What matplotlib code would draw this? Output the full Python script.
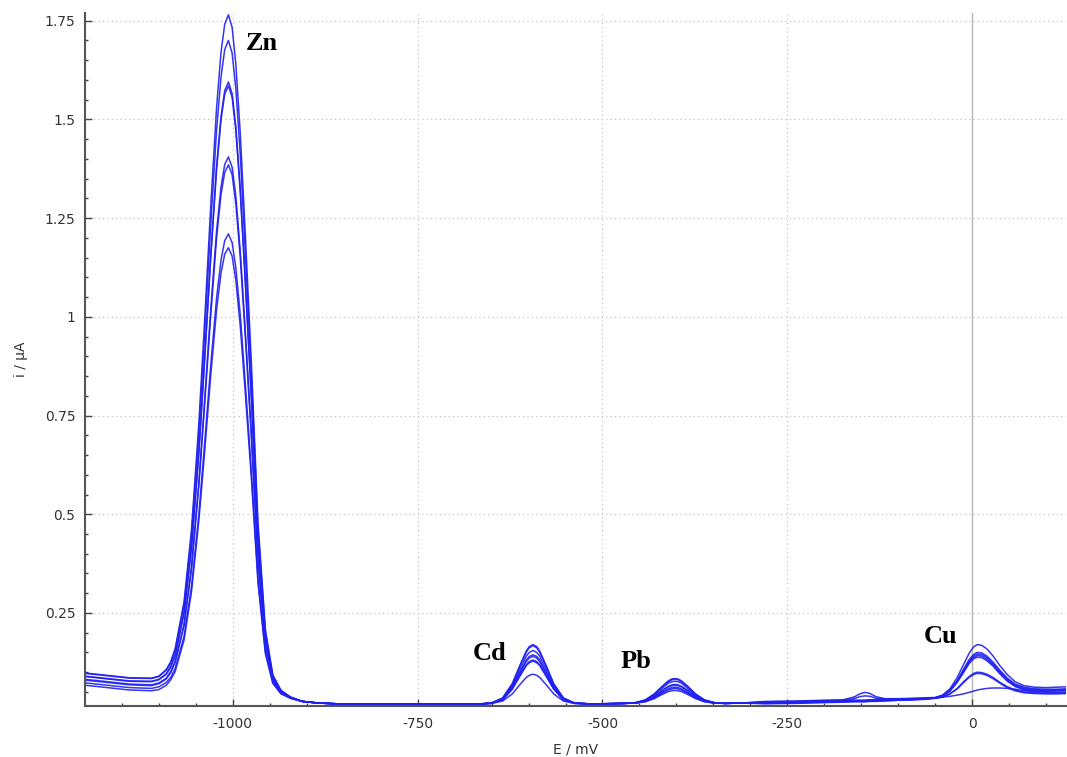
import matplotlib
matplotlib.use("Agg")
import matplotlib.pyplot as plt
from matplotlib.ticker import MultipleLocator, FixedLocator, FixedFormatter

# potential grid (mV), denser around the stripping peaks
potential = [
    -1200, -1170, -1140, -1110, -1100, -1090, -1084, -1078, -1066, -1056, -1046, -1038, -1030, -1022,
    -1016, -1011, -1006, -1001, -996, -990, -983, -975, -966, -956, -946, -935, -922, -906, -885, -860,
    -820, -760, -700, -670,
    -650, -635, -622, -612, -603, -599, -594, -589, -585, -576, -566, -553, -538, -520, -500,
    -470, -455, -442, -430, -420, -411, -406, -402, -398, -393, -384, -374, -362, -349, -334, -310,
    -280, -240, -200, -175, -160, -152, -145, -138, -130, -118,
    -100, -80, -65, -50, -40, -30, -20, -12, -4, 2, 7, 13, 20, 28, 37, 47, 58, 70, 84, 100, 114, 128,
]

# current (uA) of each scan
scan_1 = [
    0.098, 0.092, 0.086, 0.085, 0.090, 0.107, 0.127, 0.160, 0.279, 0.460, 0.730, 0.997, 1.278, 1.530,
    1.670, 1.741, 1.765, 1.733, 1.641, 1.466, 1.204, 0.885, 0.480, 0.208, 0.093, 0.054, 0.037, 0.026,
    0.022, 0.020,
    0.019, 0.019, 0.019, 0.019,
    0.022, 0.035, 0.071, 0.116, 0.154, 0.165, 0.170, 0.165, 0.154, 0.116, 0.071, 0.035, 0.022, 0.020,
    0.020,
    0.021, 0.023, 0.030, 0.045, 0.063, 0.078, 0.083, 0.084, 0.083, 0.078, 0.063, 0.045, 0.030, 0.023,
    0.021, 0.022,
    0.026, 0.027, 0.029, 0.030, 0.037, 0.045, 0.049, 0.046, 0.038, 0.033,
    0.033, 0.034, 0.035, 0.036, 0.042, 0.058, 0.087, 0.118, 0.148, 0.164, 0.170, 0.168, 0.159, 0.142,
    0.118, 0.095, 0.076, 0.066, 0.062, 0.061, 0.062, 0.063,
]
scan_2 = [
    0.097, 0.091, 0.085, 0.084, 0.089, 0.105, 0.124, 0.156, 0.270, 0.444, 0.704, 0.961, 1.231, 1.473,
    1.608, 1.677, 1.700, 1.668, 1.580, 1.412, 1.159, 0.853, 0.463, 0.202, 0.092, 0.054, 0.037, 0.026,
    0.022, 0.020,
    0.019, 0.019, 0.019, 0.019,
    0.022, 0.034, 0.070, 0.114, 0.151, 0.162, 0.167, 0.162, 0.151, 0.114, 0.070, 0.034, 0.022, 0.020,
    0.020,
    0.021, 0.023, 0.029, 0.044, 0.062, 0.076, 0.081, 0.082, 0.081, 0.076, 0.062, 0.044, 0.029, 0.023,
    0.021, 0.022,
    0.025, 0.026, 0.028, 0.029, 0.033, 0.038, 0.040, 0.039, 0.034, 0.032,
    0.032, 0.033, 0.034, 0.035, 0.041, 0.054, 0.079, 0.106, 0.132, 0.145, 0.150, 0.149, 0.141, 0.126,
    0.106, 0.086, 0.070, 0.062, 0.058, 0.057, 0.057, 0.058,
]
scan_3 = [
    0.090, 0.084, 0.078, 0.077, 0.082, 0.096, 0.115, 0.144, 0.252, 0.415, 0.659, 0.901, 1.154, 1.382,
    1.508, 1.573, 1.595, 1.565, 1.482, 1.325, 1.088, 0.800, 0.436, 0.191, 0.088, 0.052, 0.036, 0.026,
    0.022, 0.020,
    0.019, 0.019, 0.019, 0.019,
    0.022, 0.033, 0.066, 0.106, 0.141, 0.150, 0.155, 0.150, 0.141, 0.106, 0.066, 0.033, 0.022, 0.020,
    0.020,
    0.021, 0.023, 0.029, 0.042, 0.058, 0.072, 0.076, 0.077, 0.076, 0.072, 0.058, 0.042, 0.029, 0.023,
    0.021, 0.022,
    0.024, 0.025, 0.027, 0.028, 0.029, 0.029, 0.029, 0.030, 0.030, 0.031,
    0.031, 0.032, 0.033, 0.035, 0.040, 0.053, 0.078, 0.103, 0.128, 0.141, 0.146, 0.145, 0.137, 0.123,
    0.103, 0.083, 0.068, 0.059, 0.056, 0.055, 0.055, 0.056,
]
scan_4 = [
    0.089, 0.083, 0.077, 0.076, 0.081, 0.095, 0.113, 0.143, 0.250, 0.412, 0.655, 0.895, 1.147, 1.373,
    1.499, 1.564, 1.585, 1.556, 1.473, 1.317, 1.081, 0.795, 0.433, 0.190, 0.087, 0.052, 0.036, 0.026,
    0.022, 0.020,
    0.019, 0.019, 0.019, 0.019,
    0.022, 0.032, 0.062, 0.099, 0.131, 0.140, 0.144, 0.140, 0.131, 0.099, 0.062, 0.032, 0.022, 0.020,
    0.020,
    0.021, 0.022, 0.028, 0.039, 0.053, 0.064, 0.068, 0.069, 0.068, 0.064, 0.053, 0.039, 0.028, 0.022,
    0.021, 0.022,
    0.023, 0.024, 0.026, 0.027, 0.028, 0.028, 0.028, 0.029, 0.029, 0.030,
    0.030, 0.031, 0.032, 0.035, 0.040, 0.053, 0.076, 0.101, 0.125, 0.137, 0.142, 0.141, 0.133, 0.119,
    0.100, 0.081, 0.066, 0.057, 0.054, 0.053, 0.054, 0.054,
]
scan_5 = [
    0.082, 0.076, 0.070, 0.068, 0.073, 0.085, 0.102, 0.128, 0.222, 0.366, 0.581, 0.794, 1.017, 1.218,
    1.329, 1.386, 1.405, 1.379, 1.306, 1.167, 0.959, 0.706, 0.387, 0.172, 0.081, 0.049, 0.035, 0.026,
    0.022, 0.020,
    0.019, 0.019, 0.019, 0.019,
    0.022, 0.032, 0.061, 0.097, 0.127, 0.136, 0.140, 0.136, 0.127, 0.097, 0.061, 0.032, 0.022, 0.020,
    0.020,
    0.021, 0.022, 0.027, 0.038, 0.052, 0.063, 0.066, 0.067, 0.066, 0.063, 0.052, 0.038, 0.027, 0.022,
    0.021, 0.022,
    0.023, 0.024, 0.026, 0.027, 0.028, 0.028, 0.028, 0.029, 0.029, 0.030,
    0.030, 0.031, 0.032, 0.035, 0.040, 0.052, 0.075, 0.098, 0.122, 0.134, 0.138, 0.137, 0.129, 0.116,
    0.097, 0.078, 0.064, 0.055, 0.052, 0.051, 0.052, 0.052,
]
scan_6 = [
    0.080, 0.074, 0.068, 0.066, 0.071, 0.083, 0.099, 0.125, 0.218, 0.360, 0.572, 0.782, 1.002, 1.200,
    1.310, 1.366, 1.385, 1.360, 1.287, 1.151, 0.946, 0.696, 0.381, 0.169, 0.080, 0.049, 0.035, 0.026,
    0.022, 0.020,
    0.019, 0.019, 0.019, 0.019,
    0.021, 0.031, 0.058, 0.091, 0.119, 0.127, 0.131, 0.127, 0.119, 0.091, 0.058, 0.031, 0.021, 0.020,
    0.020,
    0.021, 0.022, 0.027, 0.036, 0.048, 0.058, 0.061, 0.062, 0.061, 0.058, 0.048, 0.036, 0.027, 0.022,
    0.021, 0.022,
    0.022, 0.023, 0.025, 0.026, 0.027, 0.027, 0.027, 0.028, 0.028, 0.029,
    0.030, 0.031, 0.032, 0.034, 0.037, 0.045, 0.059, 0.075, 0.089, 0.097, 0.100, 0.099, 0.095, 0.087,
    0.075, 0.064, 0.055, 0.050, 0.048, 0.047, 0.047, 0.048,
]
scan_7 = [
    0.073, 0.067, 0.061, 0.059, 0.063, 0.074, 0.087, 0.110, 0.191, 0.316, 0.500, 0.684, 0.876, 1.048,
    1.144, 1.193, 1.210, 1.188, 1.125, 1.006, 0.827, 0.609, 0.336, 0.152, 0.074, 0.047, 0.034, 0.026,
    0.022, 0.020,
    0.019, 0.019, 0.019, 0.019,
    0.021, 0.030, 0.057, 0.089, 0.117, 0.124, 0.128, 0.124, 0.117, 0.089, 0.057, 0.030, 0.021, 0.020,
    0.020,
    0.021, 0.022, 0.026, 0.035, 0.046, 0.055, 0.058, 0.059, 0.058, 0.055, 0.046, 0.035, 0.026, 0.022,
    0.021, 0.022,
    0.021, 0.022, 0.024, 0.025, 0.026, 0.026, 0.026, 0.027, 0.027, 0.028,
    0.029, 0.030, 0.031, 0.034, 0.037, 0.045, 0.058, 0.073, 0.087, 0.094, 0.097, 0.096, 0.092, 0.084,
    0.073, 0.061, 0.053, 0.048, 0.046, 0.045, 0.045, 0.046,
]
scan_8 = [
    0.067, 0.061, 0.055, 0.053, 0.056, 0.067, 0.081, 0.102, 0.182, 0.303, 0.484, 0.662, 0.850, 1.018,
    1.111, 1.159, 1.175, 1.154, 1.093, 0.977, 0.803, 0.592, 0.326, 0.147, 0.072, 0.045, 0.034, 0.026,
    0.022, 0.020,
    0.019, 0.019, 0.019, 0.019,
    0.021, 0.027, 0.045, 0.068, 0.087, 0.092, 0.095, 0.092, 0.087, 0.068, 0.045, 0.027, 0.021, 0.020,
    0.020,
    0.021, 0.022, 0.025, 0.033, 0.043, 0.051, 0.053, 0.054, 0.053, 0.051, 0.043, 0.033, 0.025, 0.022,
    0.021, 0.022,
    0.020, 0.021, 0.023, 0.024, 0.025, 0.025, 0.025, 0.026, 0.026, 0.027,
    0.029, 0.031, 0.033, 0.035, 0.037, 0.039, 0.042, 0.045, 0.049, 0.052, 0.055, 0.057, 0.059, 0.060,
    0.060, 0.059, 0.057, 0.053, 0.051, 0.049, 0.048, 0.047,
]
scans = [scan_1, scan_2, scan_3, scan_4, scan_5, scan_6, scan_7, scan_8]

# peak labels: text, potential of the left edge, current of the baseline
peak_names = ["Zn", "Cd", "Pb", "Cu"]
peak_label_x = [-982, -675, -476, -66]
peak_label_y = [1.676, 0.131, 0.111, 0.174]

y_ticks = [0.25, 0.5, 0.75, 1.0, 1.25, 1.5, 1.75]
y_tick_labels = ["0.25", "0.5", "0.75", "1", "1.25", "1.5", "1.75"]
x_ticks = [-1000, -750, -500, -250, 0]
x_tick_labels = ["-1000", "-750", "-500", "-250", "0"]

fig = plt.figure(figsize=(10.67, 7.57), dpi=100)
ax = fig.add_axes([85 / 1067, 51 / 757, 981 / 1067, 693 / 757])

for scan in scans:
    ax.plot(potential, scan, color="#2020f0", lw=1.1, alpha=0.9)

ax.axvline(0, color="#b4b4b4", lw=1.0, zorder=0)

for name, x, y in zip(peak_names, peak_label_x, peak_label_y):
    ax.text(x, y, name, family="Liberation Serif", fontweight="bold", fontsize=19,
            ha="left", va="baseline", color="black")

ax.set_xlim(-1200, 127)
ax.set_ylim(0.0144, 1.7695)

ax.xaxis.set_major_locator(FixedLocator(x_ticks))
ax.xaxis.set_major_formatter(FixedFormatter(x_tick_labels))
ax.xaxis.set_minor_locator(MultipleLocator(50))
ax.yaxis.set_major_locator(FixedLocator(y_ticks))
ax.yaxis.set_major_formatter(FixedFormatter(y_tick_labels))
ax.yaxis.set_minor_locator(MultipleLocator(0.05))

ax.tick_params(which="both", direction="in", color="#444444", width=1.0)
ax.tick_params(which="major", length=5, labelsize=10, labelcolor="#333333")
ax.tick_params(axis="x", which="major", pad=8)
ax.tick_params(axis="y", which="major", pad=7)
ax.tick_params(which="minor", length=2.5)

ax.grid(True, which="major", color="#c4c4c4", linestyle=(0, (1, 2.5)), linewidth=0.9)
ax.set_axisbelow(True)

for side in ["top", "right"]:
    ax.spines[side].set_visible(False)
for side in ["left", "bottom"]:
    ax.spines[side].set_color("#555555")
    ax.spines[side].set_linewidth(1.5)

ax.set_xlabel("E / mV", fontsize=10, color="#333333", labelpad=8)
ax.set_ylabel("i / µA", fontsize=10, color="#333333", labelpad=12)

fig.savefig("out.png", dpi=100)
